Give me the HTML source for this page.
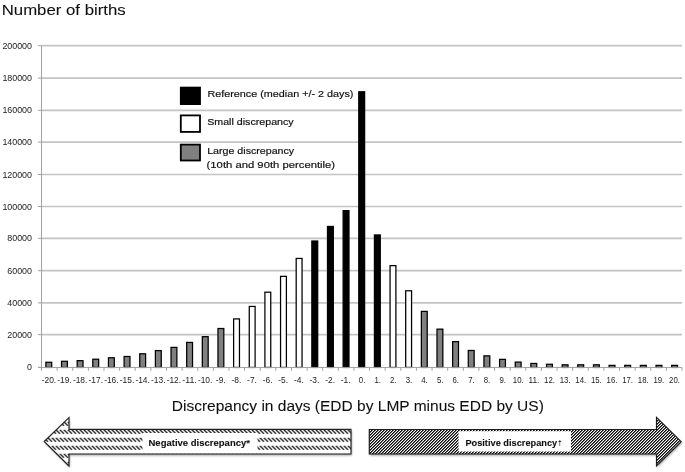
<!DOCTYPE html>
<html><head><meta charset="utf-8"><title>Discrepancy chart</title>
<style>
html,body{margin:0;padding:0;background:#fff;}
body{width:685px;height:472px;overflow:hidden;}
svg{display:block;}
text{font-family:"Liberation Sans",sans-serif;}
</style></head><body>
<svg width="685" height="472" viewBox="0 0 685 472">
<defs>
<pattern id="pdash" width="4" height="8" patternUnits="userSpaceOnUse" x="0" y="429.8">
<path d="M-0.3,-0.3 L4.1,4.1 M-4.3,-0.3 L0.1,4.1 M3.7,-0.3 L8.1,4.1" stroke="#1c1c1c" stroke-width="1.4" fill="none"/>
<rect x="0" y="4.1" width="4" height="3.9" fill="#fff"/>
</pattern>
<pattern id="pdiag" width="3" height="3" patternUnits="userSpaceOnUse" x="0" y="0" shape-rendering="crispEdges">
<rect width="3" height="3" fill="#fff"/>
<rect x="0" y="0" width="1" height="1" fill="#080808"/><rect x="1" y="0" width="1" height="1" fill="#6a6a6a"/><rect x="2" y="0" width="1" height="1" fill="#fafafa"/><rect x="0" y="1" width="1" height="1" fill="#6a6a6a"/><rect x="1" y="1" width="1" height="1" fill="#fafafa"/><rect x="2" y="1" width="1" height="1" fill="#080808"/><rect x="0" y="2" width="1" height="1" fill="#fafafa"/><rect x="1" y="2" width="1" height="1" fill="#080808"/><rect x="2" y="2" width="1" height="1" fill="#6a6a6a"/>
</pattern>
<filter id="soft" x="0" y="0" width="685" height="472" filterUnits="userSpaceOnUse"><feGaussianBlur stdDeviation="0.42"/></filter>
<filter id="soft2" x="0" y="400" width="685" height="72" filterUnits="userSpaceOnUse"><feGaussianBlur stdDeviation="0.3"/></filter>
<filter id="sh" x="-5%" y="-20%" width="110%" height="150%"><feGaussianBlur stdDeviation="1.2"/></filter>
</defs>
<rect width="685" height="472" fill="#fff"/>
<g filter="url(#soft)">

<line x1="41.5" y1="334.6" x2="682.0" y2="334.6" stroke="#c4c4c4" stroke-width="1.7"/>
<line x1="41.5" y1="302.9" x2="682.0" y2="302.9" stroke="#c4c4c4" stroke-width="1.7"/>
<line x1="41.5" y1="270.7" x2="682.0" y2="270.7" stroke="#c4c4c4" stroke-width="1.7"/>
<line x1="41.5" y1="238.3" x2="682.0" y2="238.3" stroke="#c4c4c4" stroke-width="1.7"/>
<line x1="41.5" y1="206.5" x2="682.0" y2="206.5" stroke="#c4c4c4" stroke-width="1.7"/>
<line x1="41.5" y1="174.5" x2="682.0" y2="174.5" stroke="#c4c4c4" stroke-width="1.7"/>
<line x1="41.5" y1="142.1" x2="682.0" y2="142.1" stroke="#c4c4c4" stroke-width="1.7"/>
<line x1="41.5" y1="110.3" x2="682.0" y2="110.3" stroke="#c4c4c4" stroke-width="1.7"/>
<line x1="41.5" y1="78.1" x2="682.0" y2="78.1" stroke="#c4c4c4" stroke-width="1.7"/>
<line x1="41.5" y1="45.7" x2="682.0" y2="45.7" stroke="#c4c4c4" stroke-width="1.7"/>
<line x1="38.0" y1="367.4" x2="41.5" y2="367.4" stroke="#a0a0a0" stroke-width="1"/>
<text x="32" y="370.4" font-size="8.9" text-anchor="end" fill="#222">0</text>
<line x1="38.0" y1="334.6" x2="41.5" y2="334.6" stroke="#a0a0a0" stroke-width="1"/>
<text x="32" y="337.6" font-size="8.9" text-anchor="end" fill="#222">20000</text>
<line x1="38.0" y1="302.9" x2="41.5" y2="302.9" stroke="#a0a0a0" stroke-width="1"/>
<text x="32" y="305.9" font-size="8.9" text-anchor="end" fill="#222">40000</text>
<line x1="38.0" y1="270.7" x2="41.5" y2="270.7" stroke="#a0a0a0" stroke-width="1"/>
<text x="32" y="273.7" font-size="8.9" text-anchor="end" fill="#222">60000</text>
<line x1="38.0" y1="238.3" x2="41.5" y2="238.3" stroke="#a0a0a0" stroke-width="1"/>
<text x="32" y="241.3" font-size="8.9" text-anchor="end" fill="#222">80000</text>
<line x1="38.0" y1="206.5" x2="41.5" y2="206.5" stroke="#a0a0a0" stroke-width="1"/>
<text x="32" y="209.5" font-size="8.9" text-anchor="end" fill="#222">100000</text>
<line x1="38.0" y1="174.5" x2="41.5" y2="174.5" stroke="#a0a0a0" stroke-width="1"/>
<text x="32" y="177.5" font-size="8.9" text-anchor="end" fill="#222">120000</text>
<line x1="38.0" y1="142.1" x2="41.5" y2="142.1" stroke="#a0a0a0" stroke-width="1"/>
<text x="32" y="145.1" font-size="8.9" text-anchor="end" fill="#222">140000</text>
<line x1="38.0" y1="110.3" x2="41.5" y2="110.3" stroke="#a0a0a0" stroke-width="1"/>
<text x="32" y="113.3" font-size="8.9" text-anchor="end" fill="#222">160000</text>
<line x1="38.0" y1="78.1" x2="41.5" y2="78.1" stroke="#a0a0a0" stroke-width="1"/>
<text x="32" y="81.1" font-size="8.9" text-anchor="end" fill="#222">180000</text>
<line x1="38.0" y1="45.7" x2="41.5" y2="45.7" stroke="#a0a0a0" stroke-width="1"/>
<text x="32" y="48.7" font-size="8.9" text-anchor="end" fill="#222">200000</text>
<rect x="45.88" y="362.26" width="5.85" height="5.19" fill="#808080" stroke="#000" stroke-width="1.25"/>
<rect x="61.52" y="361.30" width="5.85" height="6.15" fill="#808080" stroke="#000" stroke-width="1.25"/>
<rect x="77.17" y="360.66" width="5.85" height="6.79" fill="#808080" stroke="#000" stroke-width="1.25"/>
<rect x="92.81" y="359.22" width="5.85" height="8.23" fill="#808080" stroke="#000" stroke-width="1.25"/>
<rect x="108.45" y="357.79" width="5.85" height="9.66" fill="#808080" stroke="#000" stroke-width="1.25"/>
<rect x="124.10" y="356.51" width="5.85" height="10.94" fill="#808080" stroke="#000" stroke-width="1.25"/>
<rect x="139.75" y="353.79" width="5.85" height="13.66" fill="#808080" stroke="#000" stroke-width="1.25"/>
<rect x="155.39" y="350.59" width="5.85" height="16.86" fill="#808080" stroke="#000" stroke-width="1.25"/>
<rect x="171.03" y="347.39" width="5.85" height="20.06" fill="#808080" stroke="#000" stroke-width="1.25"/>
<rect x="186.68" y="342.43" width="5.85" height="25.02" fill="#808080" stroke="#000" stroke-width="1.25"/>
<rect x="202.32" y="336.67" width="5.85" height="30.78" fill="#808080" stroke="#000" stroke-width="1.25"/>
<rect x="217.97" y="328.51" width="5.85" height="38.94" fill="#808080" stroke="#000" stroke-width="1.25"/>
<rect x="233.62" y="318.92" width="5.85" height="48.53" fill="#fff" stroke="#000" stroke-width="1.25"/>
<rect x="249.26" y="306.44" width="5.85" height="61.01" fill="#fff" stroke="#000" stroke-width="1.25"/>
<rect x="264.90" y="292.20" width="5.85" height="75.25" fill="#fff" stroke="#000" stroke-width="1.25"/>
<rect x="280.55" y="276.37" width="5.85" height="91.08" fill="#fff" stroke="#000" stroke-width="1.25"/>
<rect x="296.19" y="258.45" width="5.85" height="109.00" fill="#fff" stroke="#000" stroke-width="1.25"/>
<rect x="311.84" y="241.01" width="5.85" height="126.44" fill="#000" stroke="#000" stroke-width="1.25"/>
<rect x="327.49" y="226.46" width="5.85" height="140.99" fill="#000" stroke="#000" stroke-width="1.25"/>
<rect x="343.13" y="210.62" width="5.85" height="156.83" fill="#000" stroke="#000" stroke-width="1.25"/>
<rect x="358.77" y="91.77" width="5.85" height="275.68" fill="#000" stroke="#000" stroke-width="1.25"/>
<rect x="374.42" y="234.94" width="5.85" height="132.51" fill="#000" stroke="#000" stroke-width="1.25"/>
<rect x="390.06" y="265.65" width="5.85" height="101.80" fill="#fff" stroke="#000" stroke-width="1.25"/>
<rect x="405.71" y="290.76" width="5.85" height="76.69" fill="#fff" stroke="#000" stroke-width="1.25"/>
<rect x="421.36" y="311.40" width="5.85" height="56.05" fill="#808080" stroke="#000" stroke-width="1.25"/>
<rect x="437.00" y="329.15" width="5.85" height="38.30" fill="#808080" stroke="#000" stroke-width="1.25"/>
<rect x="452.64" y="341.63" width="5.85" height="25.82" fill="#808080" stroke="#000" stroke-width="1.25"/>
<rect x="468.29" y="350.48" width="5.85" height="16.97" fill="#808080" stroke="#000" stroke-width="1.25"/>
<rect x="483.94" y="355.87" width="5.85" height="11.58" fill="#808080" stroke="#000" stroke-width="1.25"/>
<rect x="499.58" y="359.38" width="5.85" height="8.07" fill="#808080" stroke="#000" stroke-width="1.25"/>
<rect x="515.23" y="362.10" width="5.85" height="5.35" fill="#808080" stroke="#000" stroke-width="1.25"/>
<rect x="530.87" y="363.46" width="5.85" height="3.99" fill="#808080" stroke="#000" stroke-width="1.25"/>
<rect x="546.51" y="364.28" width="5.85" height="3.17" fill="#808080" stroke="#000" stroke-width="1.25"/>
<rect x="562.16" y="364.82" width="5.85" height="2.63" fill="#808080" stroke="#000" stroke-width="1.25"/>
<rect x="577.80" y="364.82" width="5.85" height="2.63" fill="#808080" stroke="#000" stroke-width="1.25"/>
<rect x="593.45" y="364.82" width="5.85" height="2.63" fill="#808080" stroke="#000" stroke-width="1.25"/>
<rect x="609.10" y="365.37" width="5.85" height="2.08" fill="#808080" stroke="#000" stroke-width="1.25"/>
<rect x="624.74" y="365.37" width="5.85" height="2.08" fill="#808080" stroke="#000" stroke-width="1.25"/>
<rect x="640.38" y="365.37" width="5.85" height="2.08" fill="#808080" stroke="#000" stroke-width="1.25"/>
<rect x="656.03" y="365.37" width="5.85" height="2.08" fill="#808080" stroke="#000" stroke-width="1.25"/>
<rect x="671.67" y="365.37" width="5.85" height="2.08" fill="#808080" stroke="#000" stroke-width="1.25"/>
<line x1="41.5" y1="45.599999999999966" x2="41.5" y2="367.45" stroke="#a0a0a0" stroke-width="1"/>
<line x1="38.0" y1="367.45" x2="682.0" y2="367.45" stroke="#a0a0a0" stroke-width="1"/>
<line x1="41.50" y1="367.45" x2="41.50" y2="370.75" stroke="#a0a0a0" stroke-width="1"/>
<line x1="57.12" y1="367.45" x2="57.12" y2="370.75" stroke="#a0a0a0" stroke-width="1"/>
<line x1="72.74" y1="367.45" x2="72.74" y2="370.75" stroke="#a0a0a0" stroke-width="1"/>
<line x1="88.37" y1="367.45" x2="88.37" y2="370.75" stroke="#a0a0a0" stroke-width="1"/>
<line x1="103.99" y1="367.45" x2="103.99" y2="370.75" stroke="#a0a0a0" stroke-width="1"/>
<line x1="119.61" y1="367.45" x2="119.61" y2="370.75" stroke="#a0a0a0" stroke-width="1"/>
<line x1="135.23" y1="367.45" x2="135.23" y2="370.75" stroke="#a0a0a0" stroke-width="1"/>
<line x1="150.85" y1="367.45" x2="150.85" y2="370.75" stroke="#a0a0a0" stroke-width="1"/>
<line x1="166.48" y1="367.45" x2="166.48" y2="370.75" stroke="#a0a0a0" stroke-width="1"/>
<line x1="182.10" y1="367.45" x2="182.10" y2="370.75" stroke="#a0a0a0" stroke-width="1"/>
<line x1="197.72" y1="367.45" x2="197.72" y2="370.75" stroke="#a0a0a0" stroke-width="1"/>
<line x1="213.34" y1="367.45" x2="213.34" y2="370.75" stroke="#a0a0a0" stroke-width="1"/>
<line x1="228.96" y1="367.45" x2="228.96" y2="370.75" stroke="#a0a0a0" stroke-width="1"/>
<line x1="244.59" y1="367.45" x2="244.59" y2="370.75" stroke="#a0a0a0" stroke-width="1"/>
<line x1="260.21" y1="367.45" x2="260.21" y2="370.75" stroke="#a0a0a0" stroke-width="1"/>
<line x1="275.83" y1="367.45" x2="275.83" y2="370.75" stroke="#a0a0a0" stroke-width="1"/>
<line x1="291.45" y1="367.45" x2="291.45" y2="370.75" stroke="#a0a0a0" stroke-width="1"/>
<line x1="307.07" y1="367.45" x2="307.07" y2="370.75" stroke="#a0a0a0" stroke-width="1"/>
<line x1="322.70" y1="367.45" x2="322.70" y2="370.75" stroke="#a0a0a0" stroke-width="1"/>
<line x1="338.32" y1="367.45" x2="338.32" y2="370.75" stroke="#a0a0a0" stroke-width="1"/>
<line x1="353.94" y1="367.45" x2="353.94" y2="370.75" stroke="#a0a0a0" stroke-width="1"/>
<line x1="369.56" y1="367.45" x2="369.56" y2="370.75" stroke="#a0a0a0" stroke-width="1"/>
<line x1="385.18" y1="367.45" x2="385.18" y2="370.75" stroke="#a0a0a0" stroke-width="1"/>
<line x1="400.80" y1="367.45" x2="400.80" y2="370.75" stroke="#a0a0a0" stroke-width="1"/>
<line x1="416.43" y1="367.45" x2="416.43" y2="370.75" stroke="#a0a0a0" stroke-width="1"/>
<line x1="432.05" y1="367.45" x2="432.05" y2="370.75" stroke="#a0a0a0" stroke-width="1"/>
<line x1="447.67" y1="367.45" x2="447.67" y2="370.75" stroke="#a0a0a0" stroke-width="1"/>
<line x1="463.29" y1="367.45" x2="463.29" y2="370.75" stroke="#a0a0a0" stroke-width="1"/>
<line x1="478.91" y1="367.45" x2="478.91" y2="370.75" stroke="#a0a0a0" stroke-width="1"/>
<line x1="494.54" y1="367.45" x2="494.54" y2="370.75" stroke="#a0a0a0" stroke-width="1"/>
<line x1="510.16" y1="367.45" x2="510.16" y2="370.75" stroke="#a0a0a0" stroke-width="1"/>
<line x1="525.78" y1="367.45" x2="525.78" y2="370.75" stroke="#a0a0a0" stroke-width="1"/>
<line x1="541.40" y1="367.45" x2="541.40" y2="370.75" stroke="#a0a0a0" stroke-width="1"/>
<line x1="557.02" y1="367.45" x2="557.02" y2="370.75" stroke="#a0a0a0" stroke-width="1"/>
<line x1="572.65" y1="367.45" x2="572.65" y2="370.75" stroke="#a0a0a0" stroke-width="1"/>
<line x1="588.27" y1="367.45" x2="588.27" y2="370.75" stroke="#a0a0a0" stroke-width="1"/>
<line x1="603.89" y1="367.45" x2="603.89" y2="370.75" stroke="#a0a0a0" stroke-width="1"/>
<line x1="619.51" y1="367.45" x2="619.51" y2="370.75" stroke="#a0a0a0" stroke-width="1"/>
<line x1="635.13" y1="367.45" x2="635.13" y2="370.75" stroke="#a0a0a0" stroke-width="1"/>
<line x1="650.76" y1="367.45" x2="650.76" y2="370.75" stroke="#a0a0a0" stroke-width="1"/>
<line x1="666.38" y1="367.45" x2="666.38" y2="370.75" stroke="#a0a0a0" stroke-width="1"/>
<line x1="682.00" y1="367.45" x2="682.00" y2="370.75" stroke="#a0a0a0" stroke-width="1"/>
<text x="48.91" y="383.4" font-size="9.2" text-anchor="middle" textLength="14.47" lengthAdjust="spacingAndGlyphs" fill="#222">-20.</text>
<text x="64.53" y="383.4" font-size="9.2" text-anchor="middle" textLength="14.47" lengthAdjust="spacingAndGlyphs" fill="#222">-19.</text>
<text x="80.15" y="383.4" font-size="9.2" text-anchor="middle" textLength="14.47" lengthAdjust="spacingAndGlyphs" fill="#222">-18.</text>
<text x="95.78" y="383.4" font-size="9.2" text-anchor="middle" textLength="14.47" lengthAdjust="spacingAndGlyphs" fill="#222">-17.</text>
<text x="111.40" y="383.4" font-size="9.2" text-anchor="middle" textLength="14.47" lengthAdjust="spacingAndGlyphs" fill="#222">-16.</text>
<text x="127.02" y="383.4" font-size="9.2" text-anchor="middle" textLength="14.47" lengthAdjust="spacingAndGlyphs" fill="#222">-15.</text>
<text x="142.64" y="383.4" font-size="9.2" text-anchor="middle" textLength="14.47" lengthAdjust="spacingAndGlyphs" fill="#222">-14.</text>
<text x="158.26" y="383.4" font-size="9.2" text-anchor="middle" textLength="14.47" lengthAdjust="spacingAndGlyphs" fill="#222">-13.</text>
<text x="173.89" y="383.4" font-size="9.2" text-anchor="middle" textLength="14.47" lengthAdjust="spacingAndGlyphs" fill="#222">-12.</text>
<text x="189.51" y="383.4" font-size="9.2" text-anchor="middle" textLength="14.47" lengthAdjust="spacingAndGlyphs" fill="#222">-11.</text>
<text x="205.13" y="383.4" font-size="9.2" text-anchor="middle" textLength="14.47" lengthAdjust="spacingAndGlyphs" fill="#222">-10.</text>
<text x="220.75" y="383.4" font-size="9.2" text-anchor="middle" textLength="9.80" lengthAdjust="spacingAndGlyphs" fill="#222">-9.</text>
<text x="236.37" y="383.4" font-size="9.2" text-anchor="middle" textLength="9.80" lengthAdjust="spacingAndGlyphs" fill="#222">-8.</text>
<text x="252.00" y="383.4" font-size="9.2" text-anchor="middle" textLength="9.80" lengthAdjust="spacingAndGlyphs" fill="#222">-7.</text>
<text x="267.62" y="383.4" font-size="9.2" text-anchor="middle" textLength="9.80" lengthAdjust="spacingAndGlyphs" fill="#222">-6.</text>
<text x="283.24" y="383.4" font-size="9.2" text-anchor="middle" textLength="9.80" lengthAdjust="spacingAndGlyphs" fill="#222">-5.</text>
<text x="298.86" y="383.4" font-size="9.2" text-anchor="middle" textLength="9.80" lengthAdjust="spacingAndGlyphs" fill="#222">-4.</text>
<text x="314.48" y="383.4" font-size="9.2" text-anchor="middle" textLength="9.80" lengthAdjust="spacingAndGlyphs" fill="#222">-3.</text>
<text x="330.11" y="383.4" font-size="9.2" text-anchor="middle" textLength="9.80" lengthAdjust="spacingAndGlyphs" fill="#222">-2.</text>
<text x="345.73" y="383.4" font-size="9.2" text-anchor="middle" textLength="9.80" lengthAdjust="spacingAndGlyphs" fill="#222">-1.</text>
<text x="362.05" y="383.4" font-size="9.2" text-anchor="middle" textLength="6.52" lengthAdjust="spacingAndGlyphs" fill="#222">0.</text>
<text x="377.67" y="383.4" font-size="9.2" text-anchor="middle" textLength="6.52" lengthAdjust="spacingAndGlyphs" fill="#222">1.</text>
<text x="393.29" y="383.4" font-size="9.2" text-anchor="middle" textLength="6.52" lengthAdjust="spacingAndGlyphs" fill="#222">2.</text>
<text x="408.92" y="383.4" font-size="9.2" text-anchor="middle" textLength="6.52" lengthAdjust="spacingAndGlyphs" fill="#222">3.</text>
<text x="424.54" y="383.4" font-size="9.2" text-anchor="middle" textLength="6.52" lengthAdjust="spacingAndGlyphs" fill="#222">4.</text>
<text x="440.16" y="383.4" font-size="9.2" text-anchor="middle" textLength="6.52" lengthAdjust="spacingAndGlyphs" fill="#222">5.</text>
<text x="455.78" y="383.4" font-size="9.2" text-anchor="middle" textLength="6.52" lengthAdjust="spacingAndGlyphs" fill="#222">6.</text>
<text x="471.40" y="383.4" font-size="9.2" text-anchor="middle" textLength="6.52" lengthAdjust="spacingAndGlyphs" fill="#222">7.</text>
<text x="487.03" y="383.4" font-size="9.2" text-anchor="middle" textLength="6.52" lengthAdjust="spacingAndGlyphs" fill="#222">8.</text>
<text x="502.65" y="383.4" font-size="9.2" text-anchor="middle" textLength="6.52" lengthAdjust="spacingAndGlyphs" fill="#222">9.</text>
<text x="518.27" y="383.4" font-size="9.2" text-anchor="middle" textLength="10.86" lengthAdjust="spacingAndGlyphs" fill="#222">10.</text>
<text x="533.89" y="383.4" font-size="9.2" text-anchor="middle" textLength="10.86" lengthAdjust="spacingAndGlyphs" fill="#222">11.</text>
<text x="549.51" y="383.4" font-size="9.2" text-anchor="middle" textLength="10.86" lengthAdjust="spacingAndGlyphs" fill="#222">12.</text>
<text x="565.14" y="383.4" font-size="9.2" text-anchor="middle" textLength="10.86" lengthAdjust="spacingAndGlyphs" fill="#222">13.</text>
<text x="580.76" y="383.4" font-size="9.2" text-anchor="middle" textLength="10.86" lengthAdjust="spacingAndGlyphs" fill="#222">14.</text>
<text x="596.38" y="383.4" font-size="9.2" text-anchor="middle" textLength="10.86" lengthAdjust="spacingAndGlyphs" fill="#222">15.</text>
<text x="612.00" y="383.4" font-size="9.2" text-anchor="middle" textLength="10.86" lengthAdjust="spacingAndGlyphs" fill="#222">16.</text>
<text x="627.62" y="383.4" font-size="9.2" text-anchor="middle" textLength="10.86" lengthAdjust="spacingAndGlyphs" fill="#222">17.</text>
<text x="643.25" y="383.4" font-size="9.2" text-anchor="middle" textLength="10.86" lengthAdjust="spacingAndGlyphs" fill="#222">18.</text>
<text x="658.87" y="383.4" font-size="9.2" text-anchor="middle" textLength="10.86" lengthAdjust="spacingAndGlyphs" fill="#222">19.</text>
<text x="674.49" y="383.4" font-size="9.2" text-anchor="middle" textLength="10.86" lengthAdjust="spacingAndGlyphs" fill="#222">20.</text>
<text x="1.7" y="14.6" font-size="14.6" textLength="124" lengthAdjust="spacingAndGlyphs" fill="#111" stroke="#111" stroke-width="0.08">Number of births</text>
<text x="171.8" y="411" font-size="15.4" textLength="372" lengthAdjust="spacingAndGlyphs" fill="#111" stroke="#111" stroke-width="0.08">Discrepancy in days (EDD by LMP minus EDD by US)</text>
<rect x="180.8" y="87.60" width="19.2" height="16.50" fill="#000" stroke="#000" stroke-width="1.8"/>
<rect x="180.8" y="115.40" width="19.2" height="16.50" fill="#fff" stroke="#000" stroke-width="1.8"/>
<rect x="180.8" y="144.60" width="19.2" height="15.90" fill="#808080" stroke="#000" stroke-width="1.8"/>
<text x="207.4" y="97.2" font-size="9.8" textLength="146" lengthAdjust="spacingAndGlyphs" fill="#111" stroke="#111" stroke-width="0.18">Reference (median +/- 2 days)</text>
<text x="207.2" y="124.8" font-size="9.8" textLength="86.5" lengthAdjust="spacingAndGlyphs" fill="#111" stroke="#111" stroke-width="0.18">Small discrepancy</text>
<text x="207.2" y="153.6" font-size="9.8" textLength="87" lengthAdjust="spacingAndGlyphs" fill="#111" stroke="#111" stroke-width="0.18">Large discrepancy</text>
<text x="206.6" y="168.4" font-size="9.8" textLength="128.5" lengthAdjust="spacingAndGlyphs" fill="#111" stroke="#111" stroke-width="0.18">(10th and 90th percentile)</text>
</g>
<path d="M44.2,441.5 L69,417.5 L69,429.3 L351,429.3 L351,454 L69,454 L69,466 Z" transform="translate(0.8,1.6)" fill="#777" opacity="0.7" filter="url(#sh)"/>
<path d="M369.3,429.5 L656.5,429.5 L656.5,417.4 L681.2,441.7 L656.5,466 L656.5,454 L369.3,454 Z" transform="translate(0.8,1.6)" fill="#777" opacity="0.7" filter="url(#sh)"/>
<path d="M44.2,441.5 L69,417.5 L69,429.3 L351,429.3 L351,454 L69,454 L69,466 Z" fill="#fff"/>
<path d="M44.2,441.5 L69,417.5 L69,429.3 L351,429.3 L351,454 L69,454 L69,466 Z" fill="url(#pdash)" stroke="#222" stroke-width="1.15"/>
<path d="M369.3,429.5 L656.5,429.5 L656.5,417.4 L681.2,441.7 L656.5,466 L656.5,454 L369.3,454 Z" fill="#fff"/>
<path d="M369.3,429.5 L656.5,429.5 L656.5,417.4 L681.2,441.7 L656.5,466 L656.5,454 L369.3,454 Z" fill="url(#pdiag)" stroke="#1a1a1a" stroke-width="1.15"/>
<g filter="url(#soft2)">
<rect x="142.5" y="433" width="115" height="17.5" fill="#fff"/>
<rect x="458.5" y="431.2" width="112.5" height="20.3" fill="#fff"/>
<text x="148.5" y="446.4" font-size="9.4" textLength="101.5" lengthAdjust="spacingAndGlyphs" font-weight="bold" fill="#111" stroke="#111" stroke-width="0.1">Negative discrepancy*</text>
<text x="465.4" y="446.3" font-size="9.4" textLength="91.8" lengthAdjust="spacingAndGlyphs" font-weight="bold" fill="#111" stroke="#111" stroke-width="0.1">Positive discrepancy</text>
<text x="558.0" y="444.6" font-size="6.6" font-weight="bold" fill="#111">†</text>
</g>
</svg></body></html>
